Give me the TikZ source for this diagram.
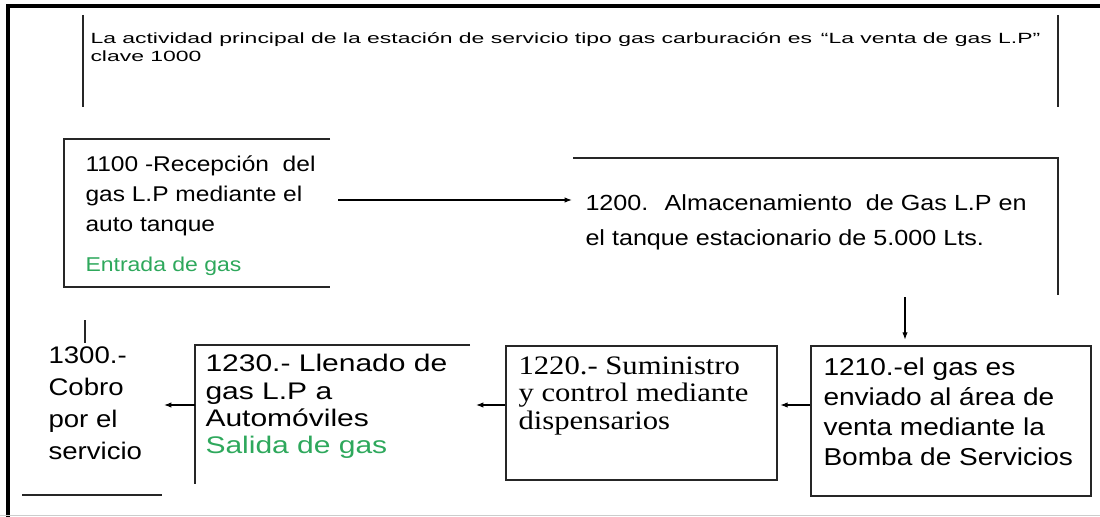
\documentclass[tikz,border=0pt]{standalone}
\usepackage{fontspec}
\setmainfont{Liberation Sans}[FakeStretch=1.15]
\newfontfamily\romanancha{Liberation Serif}[FakeStretch=1.15]
\newfontfamily\sansancha{Liberation Sans}[FakeStretch=1.55]
\newfontfamily\sansmedia{Liberation Sans}[FakeStretch=1.25]
\usetikzlibrary{arrows.meta}
\definecolor{verdegas}{RGB}{46,168,92}
\tikzset{every picture/.style={line width=0.75pt}}
\tikzset{
  linea/.style={draw=black!85, line width=1.2pt},
  caja/.style={draw=black!85, line width=1.2pt, inner sep=0pt, anchor=north west},
  flecha/.style={draw=black, line width=0.8pt, -{Latex[length=5.5pt,width=4pt]}},
  texto/.style={inner sep=0pt, anchor=north west, align=left},
}

\begin{document}
\begin{tikzpicture}[x=0.75pt,y=0.75pt,yscale=-1,xscale=1]
\useasboundingbox (0,0) rectangle (1100,517);

%Straight Lines: marco
\draw [line width=3pt] (8,517) -- (8,6) -- (1100,6) ;
\draw [black!20, line width=0.75pt] (0,515.5) -- (1100,515.5) ;

%Straight Lines: actividad principal
\draw [linea] (83,15) -- (83,107) ;
\draw [linea] (1058,15) -- (1058,107) ;
% Text Node
\node (actividad) [texto, font=\sansancha\fontsize{11.1}{13.6}\selectfont] at (90,32) {La actividad principal de la estación de servicio tipo gas carburación es \,“La venta de gas L.P”\\clave 1000};

%Shape: caja 1100
\draw [linea] (330,139) -- (64,139) -- (64,287) -- (330,287) ;
% Text Node
\node (recepcion) [texto, font=\fontsize{16}{22.5}\selectfont] at (85,155) {1100 -Recepción \ del\\gas L.P mediante el\\auto tanque};
\node (entrada) [texto, anchor=west, font=\fontsize{15}{18}\selectfont, text=verdegas] at (85,266) {Entrada de gas};

%Shape: caja 1200
\draw [linea] (573,158) -- (1058,158) -- (1058,295) ;
% Text Node
\node (almacen) [texto, font=\fontsize{16.4}{26}\selectfont] at (585,194) {1200. \ Almacenamiento \ de Gas L.P en\\el tanque estacionario de 5.000 Lts.};

%Straight Lines: 1100 a 1200
\coordinate (sale1100) at (338,200) ;
\coordinate (llega1200) at (572,200) ;
\draw [flecha] (sale1100) -- (llega1200) ;

%Shape: caja 1210
\node (bomba) [caja, minimum width=210pt, minimum height=112.5pt] at (810,345) {};
\node (bombatxt) [texto, font=\fontsize{18.3}{22.5}\selectfont] at (823,357) {1210.-el gas es\\enviado al área de\\venta mediante la\\Bomba de Servicios};

%Shape: caja 1220
\node (suministro) [caja, minimum width=203.25pt, minimum height=100.5pt] at (505,345) {};
\node (suministrotxt) [texto, font=\romanancha\fontsize{20}{20.6}\selectfont] at (518,356) {1220.- Suministro\\y control mediante\\dispensarios};

%Shape: caja 1230
\coordinate (esq1230) at (195,345) ;
\coordinate (borde1230) at (476,405) ;
\draw [linea] (470,345) -- (esq1230) -- (195,484) ;
\node (llenado) [texto, font=\sansmedia\fontsize{18}{20.5}\selectfont] at (205,354) {1230.- Llenado de\\gas L.P a\\Automóviles\\\textcolor{verdegas}{Salida de gas}};

% Text Node: 1300
\draw [linea, line width=1pt] (85,320) -- (85,343) ;
\node (cobro) [texto, font=\fontsize{18}{24}\selectfont] at (48,346) {1300.-\\Cobro\\por el\\servicio};
\draw [linea] (22,495) -- (162,495) ;

%Straight Lines: flechas
\coordinate (fila) at (0,405) ;
\coordinate (bajada) at (905,297) ;
\coordinate (punta1300) at (164,405) ;
\draw [flecha, shorten >=4pt] (bajada) -- (bajada |- bomba.north) ;
\draw [flecha, shorten >=2pt] (bomba.west |- fila) -- (suministro.east |- fila) ;
\draw [flecha] (suministro.west |- fila) -- (borde1230) ;
\draw [flecha] (esq1230 |- fila) -- (punta1300) ;

\end{tikzpicture}
\end{document}
